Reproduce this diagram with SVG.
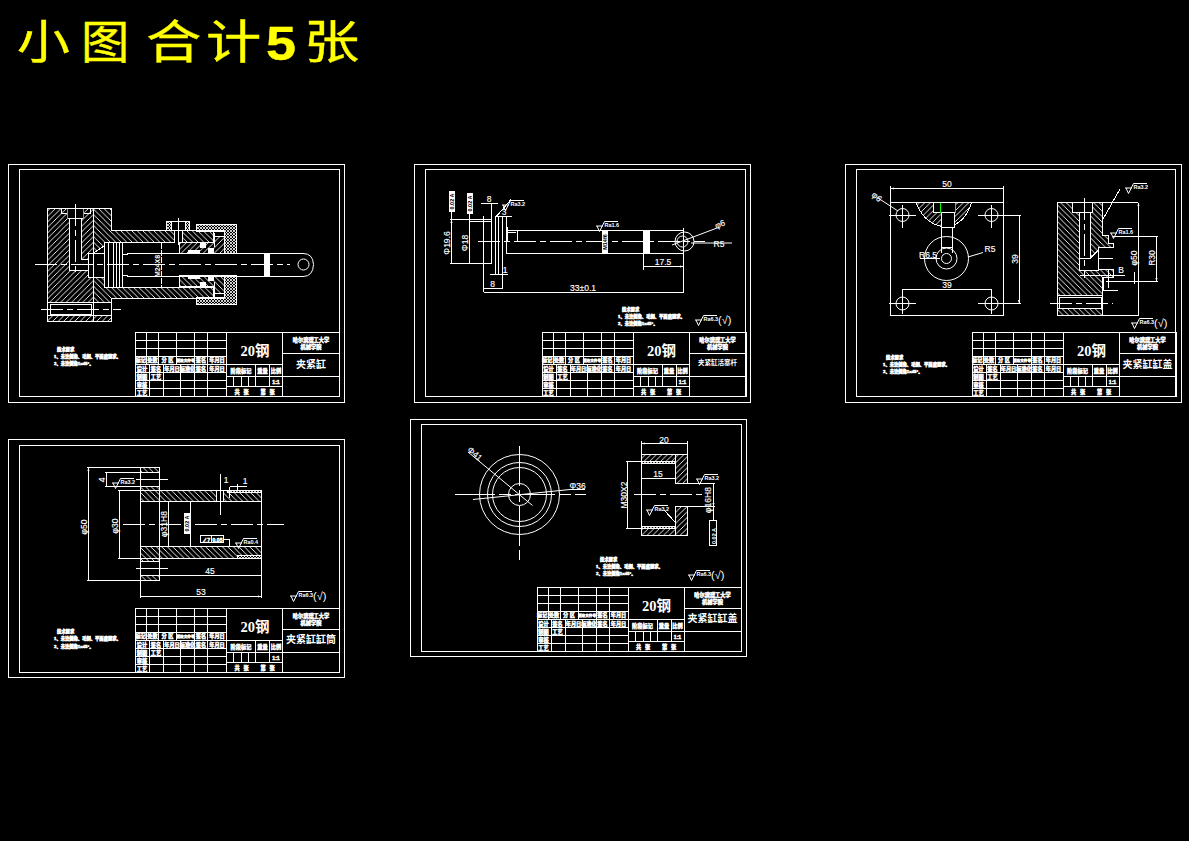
<svg xmlns="http://www.w3.org/2000/svg" width="1189" height="841" viewBox="0 0 1189 841">
<style>
.l{fill:none;stroke:#fff;stroke-width:1;shape-rendering:crispEdges}
.c{fill:none;stroke:#fff;stroke-width:1}
.k{fill:none;stroke:#fff;stroke-width:1;stroke-dasharray:22 4 6 4;shape-rendering:crispEdges}
.g{fill:none;stroke:#0f0;stroke-width:1;shape-rendering:crispEdges}
.d{fill:none;stroke:#fff;stroke-width:1;shape-rendering:crispEdges;marker-start:url(#a);marker-end:url(#a)}
.h1{fill:url(#p1);stroke:#fff;shape-rendering:crispEdges}
.h2{fill:url(#p2);stroke:#fff;shape-rendering:crispEdges}
.h3{fill:url(#p3);stroke:#fff;shape-rendering:crispEdges}
.w{fill:#fff;shape-rendering:crispEdges}
.o{fill:#000;stroke:#fff;shape-rendering:crispEdges}
text{font-family:"Liberation Sans","Noto Sans CJK SC",sans-serif;fill:#fff;text-anchor:middle}
.t{font-size:5.2px;font-weight:700;stroke:#fff;stroke-width:.45}
.n{font-size:4.3px;font-weight:700;stroke:#fff;stroke-width:.5;text-anchor:start}
.m{font-size:8.5px;stroke:#fff;stroke-width:.15}
.s{font-size:5.5px;font-weight:700;text-anchor:start}
.b{font-size:5.5px;font-weight:700;fill:#000}
.y{font-family:"Liberation Serif","Noto Sans CJK SC",serif;font-size:14.500px;font-weight:700}
.q{font-size:10px;font-weight:700}
.r{font-size:11px;text-anchor:start}
.z{font-family:"Noto Sans CJK SC",sans-serif;font-size:46px;fill:#ff0;stroke:#ff0;stroke-width:.4;text-anchor:start}
</style>
<defs>
<marker id="a" markerWidth="4" markerHeight="3" refX="3.5" refY="1.5" orient="auto-start-reverse" markerUnits="userSpaceOnUse"><path d="M0 .4L3.5 1.5L0 2.6z" fill="#fff"/></marker>
<pattern id="p1" width="5.500" height="5.500" patternUnits="userSpaceOnUse"><rect width="5.500" height="5.500" fill="#000"/><path d="M-1 1L1 -1M0 5.500L5.500 0M4.500 6.500L6.500 4.500" stroke="#fff" stroke-width=".9"/></pattern>
<pattern id="p2" width="5.500" height="5.500" patternUnits="userSpaceOnUse"><rect width="5.500" height="5.500" fill="#000"/><path d="M-1 4.500L1 6.500M0 0L5.500 5.500M4.500 -1L6.500 1" stroke="#fff" stroke-width=".9"/></pattern>
<pattern id="p3" width="3" height="3" patternUnits="userSpaceOnUse"><rect width="3" height="3" fill="#000"/><path d="M0 0L3 3M0 3L3 0" stroke="#fff" stroke-width=".8"/></pattern>
<g id="tb">
<rect class="l" x=".5" y=".5" width="204" height="64"/>
<path class="l" d="M.5 8.5H91.5M.5 16.5H91.5M.5 24.5H91.5M.5 32.5H147.5M.5 40.5H91.5M.5 48.5H91.5M.5 56.5H91.5M11.5 .5V32.5M23.5 .5V32.5M41.5 .5V32.5M59.5 .5V64.5M72.5 .5V64.5M14.5 32.5V64.5M28.5 32.5V64.5M45.5 32.5V64.5M91.5 .5V64.5M147.5 .5V64.5M147.5 21.5H204.5M91.5 44.5H204.5M91.5 54.5H147.5M120.5 32.5V54.5M134.5 32.5V54.5M98.5 44.5V54.5M106.5 44.5V54.5M113.5 44.5V54.5"/>
</g>
<g id="ra"><path class="c" d="M0 0H7M1 0L3.500 5.500L8.500 -4.500H22"/></g>
</defs>
<rect width="1189" height="841" fill="#000"/>
<g id="title">
<text class="z" transform="translate(17,58) scale(1.15,1)">小</text>
<text class="z" transform="translate(81,58) scale(1.05,1)">图</text>
<text class="z" transform="translate(146,58) scale(1.2,1)">合</text>
<text class="z" transform="translate(206,58) scale(1.2,1)">计</text>
<text class="z" transform="translate(266,60) scale(1.1,1)" style="font-family:'Liberation Sans',sans-serif;font-weight:700;font-size:49px">5</text>
<text class="z" transform="translate(304,58) scale(1.2,1)">张</text>
</g>

<g id="sheet1">
<rect class="l" x="8.5" y="164.5" width="336" height="238"/><rect class="l" x="19.5" y="169.5" width="320" height="227"/>
<rect class="h1" x="47.500" y="208.500" width="46" height="94"/>
<rect class="h1" x="47.500" y="315.500" width="64" height="6"/>
<path class="h2" d="M93.5 208.5H111.5V230.5H174.5V242.5H104V246L93.5 253z"/>
<path class="h2" d="M182 230.5H213.5V242.5H182z"/>
<path class="h2" d="M93.500 277H104V287.500H213.500V298.500H111.500V302.500H93.500z"/>
<rect class="o" x="67.500" y="208.500" width="16" height="10"/>
<path class="o" d="M69.500 218.500H81V259H88.500V270.500H69.500z"/>
<rect class="o" x="88.500" y="253.500" width="16" height="24"/>
<path class="l" d="M93.5 208.5V321.5M111.5 302.5V321.5M47.500 302.500V321.500M47.5 302.5H111.5M47.5 315.5H111.5M61 208.5V213H67M84 213H90V208.5"/>
<rect class="l" x="50.5" y="304.5" width="41" height="10"/>
<path class="g" d="M67.5 208.5V218.5M83.5 208.5V218.5"/>
<path class="k" d="M75.5 204V276M41 309.5H121M35 264.5H290"/>
<path class="l" d="M104.5 242.5V287.5M108 242.5V287.5M113 242.5V287.5M116.5 242.5V287.5M119.5 242.5V287.5M122.5 242.5V287.5M104.5 242.5H161.5M104.5 287.5H161.5"/>
<rect class="l" x="166.5" y="221.5" width="23" height="9"/><path class="h3" d="M166.5 221.5H171V230.5H166.5zM185 221.5H189.5V230.5H185z"/>
<path class="l" d="M174.5 230.5V242.5M182 230.5V242.5M178.5 218V245"/>
<g id="gland"><path class="h1" d="M179 242.5H213.5V236H224V253.5H179Z"/>
<path class="h3" d="M196.5 224.5H236V253.500H224V231.5H196.5z"/>
<path class="l" d="M190 230.5H224M214 232.5V247"/>
<rect class="w" x="200" y="242.5" width="6" height="5"/><rect class="w" x="188" y="250" width="12" height="3"/><rect class="w" x="208" y="248" width="6" height="5"/></g>
<use href="#gland" transform="matrix(1 0 0 -1 0 529)"/>
<path class="l" d="M122.5 254.5H127.5V253.5H303M122.5 275.5H127.5V276.5H303"/>
<path class="c" d="M303 253.5Q313 253.5 313.5 264.5Q313 276.5 303 276.5"/>
<circle class="c" cx="303.5" cy="264.5" r="5.5"/>
<rect class="w" x="264" y="253" width="6" height="24"/>
<path class="l" d="M161.5 242.5V287.5" stroke-dasharray="6 1"/>
<text class="s" transform="translate(160,277) rotate(-90)" style="font-size:7px">M24X8</text>
</g>
<g id="sheet1-notes"><text class="n" x="57" y="351">技术要求</text><text class="n" x="54" y="358">1、未注倒角、毛刺、平面度要求。</text><text class="n" x="54" y="365">2、未注倒角1x45°。</text></g>
<g id="tb1" transform="translate(135,332)"><use href="#tb"/>
<text class="t" x="5.8" y="30">标记</text><text class="t" x="17.5" y="30">处数</text><text class="t" x="32.5" y="30">分 区</text><text class="t" x="50.5" y="30" style="font-size:3.6px">更改文件号</text><text class="t" x="66" y="30">签名</text><text class="t" x="82" y="30">年月日</text><text class="t" x="7" y="38.5">设计</text><text class="t" x="21" y="38.5">签名</text><text class="t" x="37" y="38.5">年月日</text><text class="t" x="52.5" y="38.5">标准化</text><text class="t" x="66" y="38.5">签名</text><text class="t" x="82" y="38.5">年月日</text><text class="t" x="7" y="46.5">制图</text><text class="t" x="21" y="46.5">工艺</text><text class="t" x="7" y="54.5">审核</text><text class="t" x="7" y="62.5">工艺</text>
<text class="y" x="120" y="24">20钢</text><text class="t" x="106" y="41">阶段标记</text><text class="t" x="127.5" y="41">重量</text><text class="t" x="141" y="41">比例</text><text class="t" x="141" y="52">1:1</text><text class="t" x="102" y="62">共</text><text class="t" x="111" y="62">张</text><text class="t" x="128" y="62">第</text><text class="t" x="137" y="62">张</text>
<text class="t" x="176" y="10">哈尔滨理工大学</text><text class="t" x="176" y="17">机械学院</text><text class="q" x="176" y="36">夹紧缸</text></g>

<g id="sheet2">
<rect class="l" x="414.5" y="164.5" width="336" height="238"/><rect class="l" x="425.5" y="169.5" width="320" height="227"/>
<path class="l" d="M506.5 230.5H683.5M506.5 253.5H683.5M506.5 230.5V253.5M483.5 216V292M491.5 203V263.5M495.5 216V275M498.5 216V275M502.5 216V288M506.5 216V253.5M450 219.5H491.5M469 221.5H491.5M450 263.5H491.5M481 203.5H498M495 216.5H512M490 274.5H508M683.5 228V292M643.5 253V270"/>
<rect class="w" x="643" y="230" width="7" height="24"/>
<path class="k" d="M478 241.5H705"/>
<path class="d" d="M451.5 219.5V263.5M469.5 221.5V263.5M483.5 288.5H502.5M483.5 292.5H683.5M643.5 266.5H683.5"/>
<path class="l" d="M451.5 212V219M469.5 213.5V221"/>
<rect class="w" x="449" y="191" width="6" height="21"/><rect class="w" x="467" y="193" width="6" height="21"/>
<text class="b" transform="translate(454,201.500) rotate(-90)">0.02 A</text><text class="b" transform="translate(472,203.500) rotate(-90)">0.02 A</text>
<text class="m" transform="translate(450,243) rotate(-90)">Φ19.6</text><text class="m" transform="translate(468,243) rotate(-90)">Φ18</text>
<text class="m" x="489" y="202">8</text><text class="m" x="504" y="215">3</text><text class="m" x="505" y="273">1</text><text class="m" x="492.500" y="287">8</text><text class="m" x="583" y="291">33±0.1</text><text class="m" x="663" y="265">17.5</text>
<use href="#ra" x="502" y="205"/><path class="l" d="M511 199.500L495 218"/><text class="s" x="510.500" y="205.500">Ra3.2</text>
<use href="#ra" x="596" y="226"/><text class="s" x="604.500" y="226.500">Ra1.6</text>
<path class="l" d="M507 227V241M507 232H516M517 230V241"/>
<rect class="w" x="602" y="231" width="6" height="22"/><text class="b" transform="translate(607,242) rotate(-90)">M14f6</text>
<circle class="c" cx="684.500" cy="241.500" r="9.500"/><circle class="c" cx="682.500" cy="241.500" r="5.500"/>
<path class="c" d="M672 245L717 228M691 243H732"/><text class="m" transform="translate(721,227) rotate(-20)">φ6</text><text class="m" x="719" y="247">R5</text>
</g>
<g id="sheet2-notes"><text class="n" x="622" y="311">技术要求</text><text class="n" x="618" y="318">1、未注倒角、毛刺、平面度要求。</text><text class="n" x="618" y="325">2、未注倒角1x45°。</text><use href="#ra" x="695" y="320"/><text class="s" x="703.500" y="320.500">Ra6.3</text><text class="r" x="718" y="324">(√)</text></g>
<g id="tb2" transform="translate(541.500,332)"><use href="#tb"/>
<text class="t" x="5.8" y="30">标记</text><text class="t" x="17.5" y="30">处数</text><text class="t" x="32.5" y="30">分 区</text><text class="t" x="50.5" y="30" style="font-size:3.6px">更改文件号</text><text class="t" x="66" y="30">签名</text><text class="t" x="82" y="30">年月日</text><text class="t" x="7" y="38.5">设计</text><text class="t" x="21" y="38.5">签名</text><text class="t" x="37" y="38.5">年月日</text><text class="t" x="52.5" y="38.5">标准化</text><text class="t" x="66" y="38.5">签名</text><text class="t" x="82" y="38.5">年月日</text><text class="t" x="7" y="46.5">制图</text><text class="t" x="21" y="46.5">工艺</text><text class="t" x="7" y="54.5">审核</text><text class="t" x="7" y="62.5">工艺</text>
<text class="y" x="120" y="24">20钢</text><text class="t" x="106" y="41">阶段标记</text><text class="t" x="127.5" y="41">重量</text><text class="t" x="141" y="41">比例</text><text class="t" x="141" y="52">1:1</text><text class="t" x="102" y="62">共</text><text class="t" x="111" y="62">张</text><text class="t" x="128" y="62">第</text><text class="t" x="137" y="62">张</text>
<text class="t" x="176" y="10">哈尔滨理工大学</text><text class="t" x="176" y="17">机械学院</text><text class="q" x="176" y="33" style="font-size:6.500px">夹紧缸活塞杆</text></g>

<g id="sheet3">
<rect class="l" x="845.500" y="164.500" width="336" height="238"/><rect class="l" x="856.500" y="169.500" width="319" height="227"/>
<rect class="l" x="890.500" y="202.500" width="113" height="113"/>
<path class="h1" d="M916 202.500H971.500Q965 224 947 227Q925 226 916 202.500z"/>
<rect class="o" x="933.500" y="202.500" width="22" height="10"/><rect class="o" x="941.500" y="212.500" width="13" height="15"/>
<path class="g" d="M940 202.500V212.500M955 202.500V212.500"/>
<circle class="c" cx="902.500" cy="215" r="6.500"/><circle class="c" cx="991.500" cy="215" r="6.500"/><circle class="c" cx="902.500" cy="303.500" r="6.500"/><circle class="c" cx="991.500" cy="303.500" r="6.500"/>
<path class="l" d="M889 215.500H916M902.500 205V228M978 215.500H1021M991.500 205V228M889 303.500H916M902.500 289V314M978 303.500H1021M991.500 289V314"/>
<circle class="c" cx="946.500" cy="258.500" r="22"/><circle class="c" cx="946.500" cy="258.500" r="10.500"/><circle class="c" cx="946.500" cy="258.500" r="5"/>
<path class="l" d="M941.500 227V253M952 227V253M941.500 247H952M920 258.500H940"/>
<path class="d" d="M890.500 188.500H1003.500M902.500 289.500H991.500M1019 215.500V303.500"/>
<path class="l" d="M890.500 186V202M1003.500 186V202"/>
<text class="m" x="947" y="187">50</text><text class="m" x="947" y="288">39</text><text class="m" transform="translate(1018,259) rotate(-90)">39</text>
<path class="c" d="M878 198L898 211M968 257L983 252.500"/><text class="m" transform="translate(875,199) rotate(40)">φ6</text><text class="m" x="990" y="252">R5</text><text class="m" x="928" y="258">R6.5</text>
<path class="h2" d="M1057.500 202.500H1102.500V235.500H1108V243H1113V247.500H1098.500V269H1113V277.500H1102.500V295.500H1057.500zM1057.500 308.500H1102.500V315.500H1057.500z"/>
<rect class="o" x="1072" y="202.500" width="20" height="10"/><rect class="o" x="1079.500" y="212.500" width="11" height="46"/>
<path class="o" d="M1079.500 258H1090.500L1098.500 250V270H1079.500z"/>
<rect class="l" x="1057.500" y="295.500" width="45" height="20"/>
<rect class="l" x="1059.500" y="297.500" width="42" height="11"/>
<path class="k" d="M1050 303.500H1113M1084.500 198V278"/>
<path class="l" d="M1102.500 202.500H1138M1102.500 315.500H1138M1113 236.500H1158M1106 281.500H1158M1108 269V288M1112 275H1125M1080 275H1112M1103 277.500V290M1103 290H1118M1134 272V284M1098 258H1113"/>
<path class="d" d="M1138.500 202.500V315.500M1156.500 236.500V281.500"/>
<text class="m" transform="translate(1137,258) rotate(-90)">φ50</text><text class="m" transform="translate(1155,258) rotate(-90)">R30</text><text class="m" x="1121" y="273">B</text>
<path class="l" d="M1102.500 220L1120 189"/><use href="#ra" x="1125" y="188"/><text class="s" x="1133.500" y="188.500">Ra3.2</text>
<use href="#ra" x="1110" y="233"/><text class="s" x="1118.500" y="233.500">Ra1.6</text>
</g>
<g id="sheet3-notes"><text class="n" x="886" y="359">技术要求</text><text class="n" x="883" y="366">1、未注倒角、毛刺、平面度要求。</text><text class="n" x="883" y="373">2、未注倒角1x45°。</text><use href="#ra" x="1131" y="323"/><text class="s" x="1139.500" y="323.500">Ra6.3</text><text class="r" x="1154" y="327">(√)</text></g>
<g id="tb3" transform="translate(971.500,332)"><use href="#tb"/>
<text class="t" x="5.8" y="30">标记</text><text class="t" x="17.5" y="30">处数</text><text class="t" x="32.5" y="30">分 区</text><text class="t" x="50.5" y="30" style="font-size:3.6px">更改文件号</text><text class="t" x="66" y="30">签名</text><text class="t" x="82" y="30">年月日</text><text class="t" x="7" y="38.5">设计</text><text class="t" x="21" y="38.5">签名</text><text class="t" x="37" y="38.5">年月日</text><text class="t" x="52.5" y="38.5">标准化</text><text class="t" x="66" y="38.5">签名</text><text class="t" x="82" y="38.5">年月日</text><text class="t" x="7" y="46.5">制图</text><text class="t" x="21" y="46.5">工艺</text><text class="t" x="7" y="54.5">审核</text><text class="t" x="7" y="62.5">工艺</text>
<text class="y" x="120" y="24">20钢</text><text class="t" x="106" y="41">阶段标记</text><text class="t" x="127.5" y="41">重量</text><text class="t" x="141" y="41">比例</text><text class="t" x="141" y="52">1:1</text><text class="t" x="102" y="62">共</text><text class="t" x="111" y="62">张</text><text class="t" x="128" y="62">第</text><text class="t" x="137" y="62">张</text>
<text class="t" x="176" y="10">哈尔滨理工大学</text><text class="t" x="176" y="17">机械学院</text><text class="q" x="176" y="36">夹紧缸缸盖</text></g>

<g id="sheet4">
<rect class="l" x="8.500" y="439.500" width="336" height="238"/><rect class="l" x="19.500" y="445.500" width="320" height="227"/>
<rect class="h2" x="140.500" y="490.500" width="121" height="11"/><rect class="h2" x="140.500" y="546.500" width="121" height="12"/>
<rect class="h2" x="140.500" y="467.500" width="19" height="5"/><rect class="h2" x="140.500" y="486.500" width="19" height="4"/><rect class="h2" x="140.500" y="558.500" width="19" height="3"/><rect class="h2" x="140.500" y="575.500" width="19" height="5"/>
<path class="l" d="M140.500 467.500V580.500M159.500 467.500V580.500M140.500 501.500V546.500M261.500 490.500V558.500"/>
<rect class="o" x="216.500" y="490.500" width="7" height="11"/>
<rect class="h3" x="237.500" y="555.500" width="24" height="3"/><rect class="h3" x="227.500" y="490.500" width="34" height="2"/>
<path class="k" d="M123 524.500H284"/><path class="l" d="M136 479.500H168M136 568.500H168M220.500 474V515"/>
<path class="l" d="M87 467.500H140M87 580.500H140M118 490.500H140M118 558.500H140M105 472.500H140M105 486.500H140M140.500 580V598M261.500 558V598"/>
<path class="d" d="M88.500 467.500V580.500M119.500 490.500V558.500M106.500 472.500V486.500M168.500 501.500V546.500M190.500 501.500V546.500M159.500 575.500H261.500M140.500 596.500H261.500"/>
<text class="m" transform="translate(87,527) rotate(-90)">φ50</text><text class="m" transform="translate(118,526) rotate(-90)">φ30</text><text class="m" transform="translate(105,480) rotate(-90)">4</text><text class="m" transform="translate(167,524) rotate(-90)">φ31H8</text>
<rect class="w" x="184" y="513" width="6.500" height="21"/><text class="b" transform="translate(189,523.500) rotate(-90)">0.02 A</text>
<text class="m" x="210" y="574">45</text><text class="m" x="201" y="595">53</text>
<use href="#ra" x="112" y="483"/><text class="s" x="120.500" y="483.500">Ra3.2</text>
<rect class="l" x="200.500" y="535.500" width="23" height="7"/><path class="l" d="M211.500 535.500V542.500M223.500 539.500H229.500V546"/><text class="t" x="206" y="541.500">∠7</text><text class="t" x="217.500" y="541.500">0.05</text>
<use href="#ra" x="235" y="543"/><text class="s" x="243.500" y="543.500">Ra0.4</text>
<path class="l" d="M229.500 486.500H247M229.500 486.500V498M237 484V491"/><text class="m" x="245" y="484">1</text><text class="m" x="226" y="483">1</text>
</g>
<g id="sheet4-notes"><text class="n" x="57" y="633">技术要求</text><text class="n" x="54" y="640">1、未注倒角、毛刺、平面度要求。</text><text class="n" x="54" y="648">2、未注倒角1x45°。</text><use href="#ra" x="290" y="596"/><text class="s" x="298.500" y="596.500">Ra6.3</text><text class="r" x="313" y="600">(√)</text></g>
<g id="tb4" transform="translate(135,608)"><use href="#tb"/>
<text class="t" x="5.8" y="30">标记</text><text class="t" x="17.5" y="30">处数</text><text class="t" x="32.5" y="30">分 区</text><text class="t" x="50.5" y="30" style="font-size:3.6px">更改文件号</text><text class="t" x="66" y="30">签名</text><text class="t" x="82" y="30">年月日</text><text class="t" x="7" y="38.5">设计</text><text class="t" x="21" y="38.5">签名</text><text class="t" x="37" y="38.5">年月日</text><text class="t" x="52.5" y="38.5">标准化</text><text class="t" x="66" y="38.5">签名</text><text class="t" x="82" y="38.5">年月日</text><text class="t" x="7" y="46.5">制图</text><text class="t" x="21" y="46.5">工艺</text><text class="t" x="7" y="54.5">审核</text><text class="t" x="7" y="62.5">工艺</text>
<text class="y" x="120" y="24">20钢</text><text class="t" x="106" y="41">阶段标记</text><text class="t" x="127.5" y="41">重量</text><text class="t" x="141" y="41">比例</text><text class="t" x="141" y="52">1:1</text><text class="t" x="102" y="62">共</text><text class="t" x="111" y="62">张</text><text class="t" x="128" y="62">第</text><text class="t" x="137" y="62">张</text>
<text class="t" x="176" y="10">哈尔滨理工大学</text><text class="t" x="176" y="17">机械学院</text><text class="q" x="176" y="35">夹紧缸缸筒</text></g>

<g id="sheet5">
<rect class="l" x="410.500" y="419.500" width="336" height="237"/><rect class="l" x="421.500" y="424.500" width="320" height="227"/>
<circle class="c" cx="519.500" cy="494.500" r="40"/><circle class="c" cx="519.500" cy="494.500" r="32"/><circle class="c" cx="519.500" cy="494.500" r="27"/><circle class="c" cx="519.500" cy="494.500" r="11"/>
<path class="l" d="M455 494.500H586M519.500 446V560" stroke-dasharray="40 4 12 4"/>
<path class="c" d="M468 452L532.500 505.500M473 499.500L570 489.500H585"/>
<text class="m" transform="translate(473,456) rotate(40)">Φ41</text><text class="m" x="577.500" y="489">Φ36</text>
<rect class="h1" x="641.500" y="454.500" width="46" height="7"/><rect class="h1" x="641.500" y="528.500" width="46" height="7"/><rect class="h1" x="675.500" y="454.500" width="12" height="29"/><rect class="h1" x="675.500" y="506.500" width="12" height="29"/>
<rect class="h3" x="641.500" y="461.500" width="34" height="2"/><rect class="h3" x="641.500" y="526.500" width="34" height="2"/>
<path class="l" d="M641.500 454.500V535.500M675.500 483.500H715M675.500 506.500H715"/>
<path class="k" d="M634 494.500H703"/>
<path class="l" d="M641 441V454M687.500 441V454M626 461H641M626 528H641"/>
<path class="d" d="M641.500 443.500H687.500M641.500 478.500H675.500M627.500 461V528M713.500 483.500V506.500"/>
<text class="m" x="664" y="443">20</text><text class="m" x="658" y="477">15</text><text class="m" transform="translate(627,495) rotate(-90)">M30X2</text><text class="m" transform="translate(711,500) rotate(-90)">φ16H8</text>
<use href="#ra" x="696" y="479"/><text class="s" x="704.500" y="479.500">Ra3.2</text>
<use href="#ra" x="646" y="510"/><text class="s" x="654.500" y="510.500">Ra3.2</text><path class="l" d="M664 510L675 522"/>
<path class="l" d="M713.500 506V520"/><rect class="l" x="709.500" y="520.500" width="7" height="25"/><text class="s" transform="translate(716,544) rotate(-90)">0.02 A</text>
</g>
<g id="sheet5-notes"><text class="n" x="600" y="561">技术要求</text><text class="n" x="596" y="568">1、未注倒角、毛刺、平面度要求。</text><text class="n" x="596" y="575">2、未注倒角1x45°。</text><use href="#ra" x="688" y="575"/><text class="s" x="696.500" y="575.500">Ra6.3</text><text class="r" x="711" y="579">(√)</text></g>
<g id="tb5" transform="translate(536.500,587)"><use href="#tb"/>
<text class="t" x="5.8" y="30">标记</text><text class="t" x="17.5" y="30">处数</text><text class="t" x="32.5" y="30">分 区</text><text class="t" x="50.5" y="30" style="font-size:3.6px">更改文件号</text><text class="t" x="66" y="30">签名</text><text class="t" x="82" y="30">年月日</text><text class="t" x="7" y="38.5">设计</text><text class="t" x="21" y="38.5">签名</text><text class="t" x="37" y="38.5">年月日</text><text class="t" x="52.5" y="38.5">标准化</text><text class="t" x="66" y="38.5">签名</text><text class="t" x="82" y="38.5">年月日</text><text class="t" x="7" y="46.5">制图</text><text class="t" x="21" y="46.5">工艺</text><text class="t" x="7" y="54.5">审核</text><text class="t" x="7" y="62.5">工艺</text>
<text class="y" x="120" y="24">20钢</text><text class="t" x="106" y="41">阶段标记</text><text class="t" x="127.5" y="41">重量</text><text class="t" x="141" y="41">比例</text><text class="t" x="141" y="52">1:1</text><text class="t" x="102" y="62">共</text><text class="t" x="111" y="62">张</text><text class="t" x="128" y="62">第</text><text class="t" x="137" y="62">张</text>
<text class="t" x="176" y="10">哈尔滨理工大学</text><text class="t" x="176" y="17">机械学院</text><text class="q" x="176" y="35">夹紧缸缸盖</text></g>
</svg>
